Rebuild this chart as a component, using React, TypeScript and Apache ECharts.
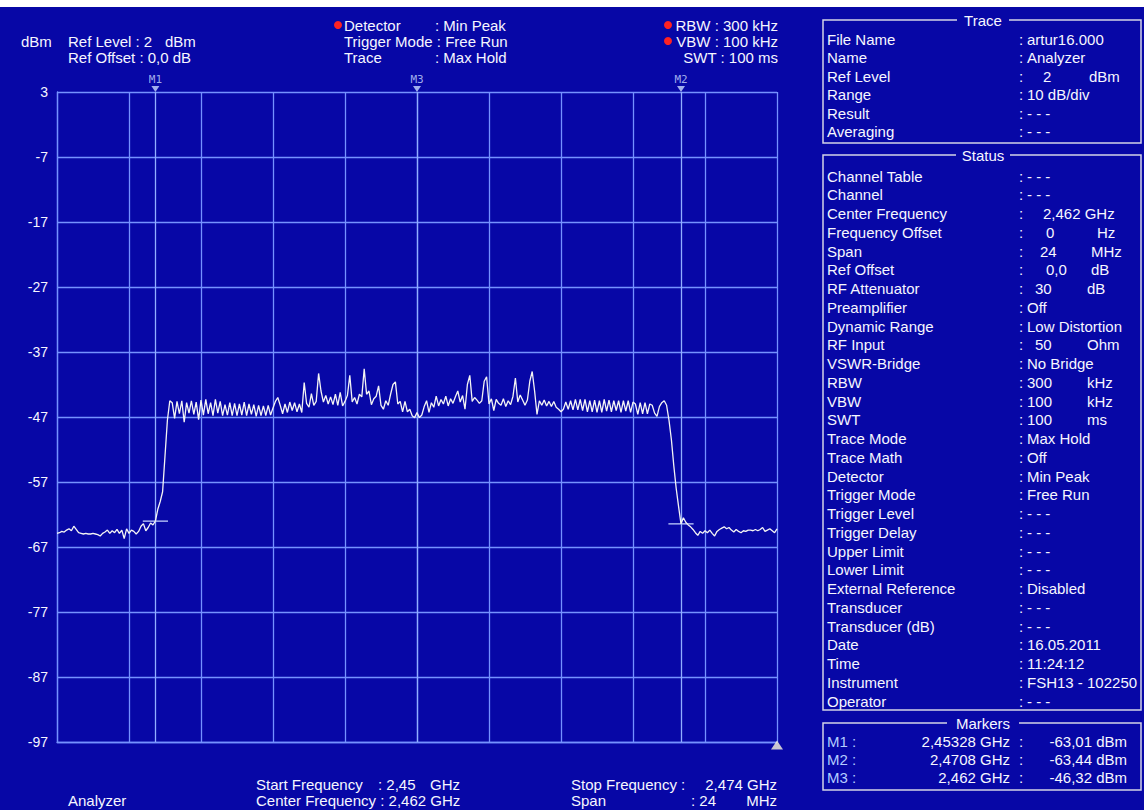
import React, { useEffect, useRef } from "react";
import * as echarts from "echarts";

// ---------- sweep ----------
const START_MHZ = 2450;
const STOP_MHZ = 2474;
const SWEEP_POINTS = 301;
const REF_TOP = 3;
const REF_BOTTOM = -97;
const Y_STEP = 10;
const X_DIVISIONS = 10;

// ---------- trace (dBm), 301 points ----------
const noiseLeft = [
  -64.9, -64.8, -64.6, -64.7, -64.4, -64.2, -64.5, -63.8, -64.3, -64.8,
  -64.9, -65.0, -64.9, -65.0, -65.0, -64.9, -65.0, -65.1, -65.3, -64.9,
  -64.7, -64.4, -64.9, -64.5, -64.8, -64.3, -64.9, -64.4, -65.7, -64.2,
  -64.9, -64.4, -64.6, -65.0, -64.6, -63.8, -63.4, -64.5,
];
const riseEdge = [-64.0, -63.3, -63.6, -63.0, -61.2, -60.0, -58.5, -53.0, -47.5];
const bandLeft = [
  -44.5, -44.8, -47.2,
  -44.6, -46.5, -44.5, -47.8, -44.8, -46.4, -44.5, -46.6, -44.7, -47.4,
  -44.4, -46.7, -44.3, -46.5, -44.8, -46.8, -44.3, -46.4, -44.6, -46.8,
  -45.1, -46.7, -44.8, -46.8, -44.9, -46.8, -45.0, -46.7, -44.7, -46.8,
  -45.0, -46.6, -45.1, -46.9, -45.2, -46.8, -45.3, -46.8, -45.2, -46.7,
  -45.6, -44.6, -44.0, -45.2, -46.5, -45.0, -46.3, -44.7, -46.0, -44.8,
];
const bandMid = [
  -46.2, -45.0, -46.3, -41.7, -44.9, -45.5, -43.4, -45.2, -44.6, -40.3,
  -43.0, -44.7, -43.7, -45.0, -43.9, -45.1, -43.5, -45.2, -43.2, -45.3,
  -44.6, -43.7, -40.6, -44.7, -44.0, -45.0, -43.5, -43.9, -39.6, -43.5,
  -43.0, -45.1, -44.2, -43.8, -42.2, -45.2, -45.8, -44.5, -45.2, -43.5,
  -42.0, -41.6, -45.0, -44.6, -46.2, -44.6, -46.2, -45.8, -46.8, -47.1,
  -46.32, -47.1, -46.7, -45.4, -44.5, -46.3, -44.8, -45.5, -43.8, -45.3,
  -44.3, -45.0, -43.8, -45.3, -44.2, -44.9, -43.9, -43.0, -44.7, -43.7,
  -45.8, -42.0, -40.6, -44.6, -44.0, -44.4, -44.9, -44.5, -41.5, -40.8,
  -45.0, -44.2, -46.0, -44.3, -44.9, -45.2, -44.2, -45.4, -44.5, -45.1,
  -43.8, -41.0, -44.7, -43.6, -44.4, -45.2, -44.4, -41.5, -40.0, -43.0,
];
const bandRight = [
  -46.6, -44.5, -45.2, -44.4, -45.3, -44.6, -45.4, -44.6, -45.5, -45.8,
  -46.2, -45.8, -44.7, -45.8, -44.5, -45.9, -44.3, -45.9, -44.3, -46.0,
  -44.3, -46.2, -44.5, -46.2, -44.4, -46.3, -44.5, -46.3, -44.3, -46.1,
  -44.4, -46.2, -44.5, -46.0, -44.5, -46.3, -44.5, -46.1, -44.5, -46.3,
  -44.7, -45.0, -46.6, -44.8, -46.5, -44.8, -46.5, -45.0, -45.2, -46.4,
  -46.9, -45.4, -44.8, -44.5, -45.2,
];
const fallEdge = [-47.5, -50.5, -54.5, -58.0, -60.8, -63.44, -62.5];
const noiseRight = [
  -63.2, -63.6, -63.9, -64.3, -64.8, -65.2, -64.6, -64.9,
  -64.5, -64.8, -64.4, -64.9, -65.3, -64.6, -64.3, -64.1, -63.9, -64.2,
  -64.0, -64.4, -64.7, -64.3, -64.6, -64.8, -64.5, -64.6, -64.4, -64.4,
  -64.5, -64.3, -64.5, -64.3, -64.0, -64.6, -64.4, -64.2, -64.5, -64.8, -64.2,
];
const traceDbm = [
  ...noiseLeft, ...riseEdge, ...bandLeft, ...bandMid, ...bandRight, ...fallEdge, ...noiseRight,
];

// ---------- markers ----------
const markerNames = ["M1", "M2", "M3"];
const markerFreqGHz = ["2,45328", "2,4708", "2,462"];
const markerFreqMHz = [2453.28, 2470.8, 2462];
const markerLevel = [-63.01, -63.44, -46.32];
const markerLevelText = ["-63,01", "-63,44", "-46,32"];
const markerHasBar = [true, true, false];

// ---------- texts ----------
const traceInfoLabels = ["File Name", "Name", "Ref Level", "Range", "Result", "Averaging"];
const traceInfoValues = [["artur16.000"], ["Analyzer"], ["2", "dBm"], ["10 dB/div"], ["- - -"], ["- - -"]];

const statusLabels = [
  "Channel Table", "Channel", "Center Frequency", "Frequency Offset", "Span", "Ref Offset",
  "RF Attenuator", "Preamplifier", "Dynamic Range", "RF Input", "VSWR-Bridge", "RBW", "VBW",
  "SWT", "Trace Mode", "Trace Math", "Detector", "Trigger Mode", "Trigger Level",
  "Trigger Delay", "Upper Limit", "Lower Limit", "External Reference", "Transducer",
  "Transducer (dB)", "Date", "Time", "Instrument", "Operator",
];
const statusValues = [
  ["- - -"], ["- - -"], ["2,462 GHz"], ["0", "Hz"], ["24", "MHz"], ["0,0", "dB"],
  ["30", "dB"], ["Off"], ["Low Distortion"], ["50", "Ohm"], ["No Bridge"], ["300", "kHz"],
  ["100", "kHz"], ["100", "ms"], ["Max Hold"], ["Off"], ["Min Peak"], ["Free Run"], ["- - -"],
  ["- - -"], ["- - -"], ["- - -"], ["Disabled"], ["- - -"], ["- - -"], ["16.05.2011"],
  ["11:24:12"], ["FSH13 - 102250"], ["- - -"],
];

// ---------- layout / style ----------
const BG = "#0707A6";
const GRID = "#7592FF";
const TXT = "#F6F6FF";
const FONT = '"Liberation Sans", Arial, sans-serif';
const PLOT = { left: 57, top: 92, width: 720, height: 650 };
const statusNumX: Record<string, number> = {
  "Frequency Offset": 1046, Span: 1040, "Ref Offset": 1046, "RF Attenuator": 1035,
  "RF Input": 1035, RBW: 1027, VBW: 1027, SWT: 1027, "Center Frequency": 1043,
};
const statusUnitX: Record<string, number> = {
  "Frequency Offset": 1097, Span: 1091, "Ref Offset": 1091, "RF Attenuator": 1087,
  "RF Input": 1087, RBW: 1087, VBW: 1087, SWT: 1087,
};

function txt(x: number, y: number, text: string, o: any = {}) {
  return {
    type: "text",
    x,
    y,
    silent: true,
    z: o.z ?? 10,
    style: {
      text,
      fill: o.fill ?? TXT,
      font: `${o.size ?? 15}px ${o.family ?? FONT}`,
      textAlign: o.align ?? "left",
      align: o.align ?? "left",
      textVerticalAlign: "middle",
      verticalAlign: "middle",
    },
  };
}

function box(x: number, y: number, w: number, h: number, title: string, titleW: number) {
  const cx = x + w / 2 + 1;
  return [
    {
      type: "rect",
      silent: true,
      z: 5,
      shape: { x, y, width: w, height: h },
      style: { fill: "none", stroke: "#D4D4E6", lineWidth: 1.5 },
    },
    {
      type: "rect",
      silent: true,
      z: 6,
      shape: { x: cx - titleW / 2, y: y - 8, width: titleW, height: 16 },
      style: { fill: BG },
    },
    txt(cx, y, title, { align: "center", z: 7 }),
  ];
}

function buildGraphic() {
  const g: any[] = [];
  g.push({ type: "rect", silent: true, z: 1, shape: { x: 0, y: 0, width: 1144, height: 7 }, style: { fill: "#FFFFFF" } });

  // header
  g.push(txt(21, 41, "dBm"));
  g.push(txt(68, 41, "Ref Level : 2"));
  g.push(txt(165, 41, "dBm"));
  g.push(txt(68, 57, "Ref Offset : 0,0 dB"));
  g.push({ type: "circle", silent: true, z: 10, shape: { cx: 338, cy: 25, r: 4 }, style: { fill: "#FF2222" } });
  g.push(txt(344, 25, "Detector"));
  g.push(txt(435, 25, ": Min Peak"));
  g.push(txt(344, 41, "Trigger Mode : Free Run"));
  g.push(txt(344, 57, "Trace"));
  g.push(txt(435, 57, ": Max Hold"));
  g.push({ type: "circle", silent: true, z: 10, shape: { cx: 668, cy: 25, r: 4 }, style: { fill: "#FF2222" } });
  g.push({ type: "circle", silent: true, z: 10, shape: { cx: 668, cy: 41, r: 4 }, style: { fill: "#FF2222" } });
  g.push(txt(778, 25, "RBW : 300 kHz", { align: "right" }));
  g.push(txt(778, 41, "VBW : 100 kHz", { align: "right" }));
  g.push(txt(778, 57, "SWT : 100 ms", { align: "right" }));

  // footer
  g.push(txt(68, 800, "Analyzer"));
  g.push(txt(256, 784, "Start Frequency"));
  g.push(txt(378, 784, ": 2,45"));
  g.push(txt(460, 784, "GHz", { align: "right" }));
  g.push(txt(256, 800, "Center Frequency : 2,462 GHz"));
  g.push(txt(571, 784, "Stop Frequency :"));
  g.push(txt(777, 784, "2,474 GHz", { align: "right" }));
  g.push(txt(571, 800, "Span"));
  g.push(txt(691, 800, ": 24"));
  g.push(txt(777, 800, "MHz", { align: "right" }));

  // right panel: Trace
  g.push(...box(823, 20, 318, 123, "Trace", 52));
  traceInfoLabels.forEach((lab, i) => {
    const y = 39 + i * 18.5;
    g.push(txt(827, y, lab));
    const v = traceInfoValues[i];
    g.push(txt(1019, y, ":"));
    if (v.length === 1) g.push(txt(1027, y, v[0]));
    else {
      g.push(txt(1043, y, v[0]));
      g.push(txt(1089, y, v[1]));
    }
  });

  // right panel: Status
  g.push(...box(823, 155, 318, 555, "Status", 54));
  statusLabels.forEach((lab, i) => {
    const y = 176 + i * 18.75;
    g.push(txt(827, y, lab));
    const v = statusValues[i];
    g.push(txt(1019, y, ":"));
    if (v.length === 1) g.push(txt(statusNumX[lab] ?? 1027, y, v[0]));
    else {
      g.push(txt(statusNumX[lab] ?? 1027, y, v[0]));
      g.push(txt(statusUnitX[lab] ?? 1087, y, v[1]));
    }
  });

  // right panel: Markers
  g.push(...box(823, 723, 318, 67, "Markers", 72));
  markerNames.forEach((m, i) => {
    const y = 741 + i * 18;
    g.push(txt(827, y, m + " :", { fill: "#B4CCFF" }));
    g.push(txt(1010, y, markerFreqGHz[i] + " GHz", { align: "right" }));
    g.push(txt(1019, y, ":"));
    g.push(txt(1127, y, markerLevelText[i] + " dBm", { align: "right" }));
  });
  return g;
}

function buildOption() {
  const span = STOP_MHZ - START_MHZ;
  const step = span / (SWEEP_POINTS - 1);
  const toY = (dbm: number) => dbm - REF_BOTTOM;
  const traceData = traceDbm.map((v, i) => [i * step, toY(v)]);
  const yMax = REF_TOP - REF_BOTTOM;

  const markerBars = markerNames
    .map((m, i) => ({ m, i }))
    .filter((o) => markerHasBar[o.i])
    .map(({ m, i }) => ({
      type: "line",
      name: m + "-bar",
      data: [
        [markerFreqMHz[i] - START_MHZ - 0.42, toY(markerLevel[i])],
        [markerFreqMHz[i] - START_MHZ + 0.42, toY(markerLevel[i])],
      ],
      showSymbol: false,
      silent: true,
      z: 4,
      lineStyle: { color: "#C8D6FF", width: 1.2 },
    }));

  return {
    animation: false,
    backgroundColor: BG,
    textStyle: { fontFamily: FONT },
    grid: { left: PLOT.left, top: PLOT.top, width: PLOT.width, height: PLOT.height, containLabel: false, outerBoundsMode: "none" },
    xAxis: {
      type: "value",
      min: 0,
      max: span,
      interval: span / X_DIVISIONS,
      axisLabel: { show: false },
      axisTick: { show: false },
      axisLine: { show: true, lineStyle: { color: GRID, width: 1.3 } },
      splitLine: { show: true, lineStyle: { color: GRID, width: 1.3 } },
    },
    yAxis: {
      type: "value",
      min: 0,
      max: yMax,
      interval: Y_STEP,
      axisLabel: {
        show: true,
        color: TXT,
        fontSize: 14,
        fontFamily: FONT,
        margin: 9,
        formatter: (v: number) => String(Math.round(v + REF_BOTTOM)),
      },
      axisTick: { show: false },
      axisLine: { show: true, lineStyle: { color: GRID, width: 1.3 } },
      splitLine: { show: true, lineStyle: { color: GRID, width: 1.3 } },
    },
    graphic: buildGraphic(),
    series: [
      {
        type: "line",
        name: "Trace",
        data: traceData,
        showSymbol: false,
        silent: true,
        z: 5,
        lineStyle: { color: "#F4F4F4", width: 1.3 },
        markLine: {
          silent: true,
          symbol: ["none", "none"],
          label: { show: false },
          lineStyle: { color: "#92AEFF", width: 1.3, type: "solid" },
          data: markerFreqMHz.map((f) => ({ xAxis: f - START_MHZ })),
        },
      },
      ...markerBars,
      {
        type: "scatter",
        name: "marker-flags",
        data: markerNames.map((m, i) => [markerFreqMHz[i] - START_MHZ, yMax, m]),
        symbol: "triangle",
        symbolRotate: 180,
        symbolSize: [8, 6],
        symbolOffset: [0, -3],
        clip: false,
        silent: true,
        z: 6,
        itemStyle: { color: "#C8D8FF" },
        label: {
          show: true,
          position: "top",
          distance: 1,
          formatter: (p: any) => p.data[2],
          color: "#C8D8FF",
          fontSize: 11,
          fontFamily: '"DejaVu Sans Mono", monospace',
        },
      },
      {
        type: "scatter",
        name: "end-flag",
        data: [[span, 0]],
        symbol: "triangle",
        symbolSize: [12, 9],
        symbolOffset: [0, 3],
        clip: false,
        silent: true,
        z: 6,
        itemStyle: { color: "#FAF6DC" },
      },
    ],
  };
}

export default function App() {
  const ref = useRef<HTMLDivElement>(null);
  useEffect(() => {
    if (!ref.current) return;
    const chart = echarts.init(ref.current, null, { renderer: "svg" });
    chart.setOption(buildOption() as any);
    return () => chart.dispose();
  }, []);
  return (
    <div style={{ position: "fixed", left: 0, top: 0, width: 1144, height: 810, background: BG }}>
      <div ref={ref} style={{ width: 1144, height: 810 }} />
    </div>
  );
}
